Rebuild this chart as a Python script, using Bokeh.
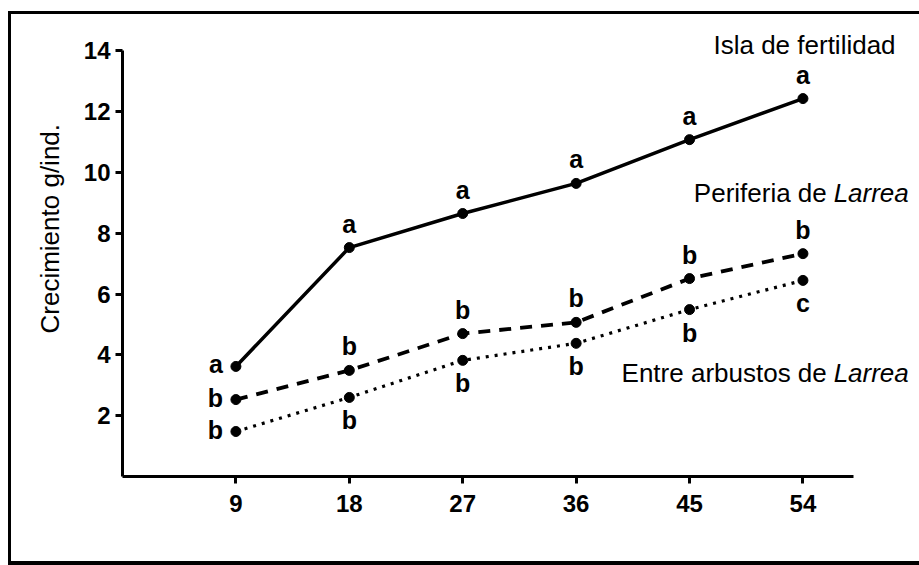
from bokeh.plotting import figure
from bokeh.models import FixedTicker, ColumnDataSource, Range1d, Title
from bokeh.core.properties import value
from bokeh.embed import file_html
from bokeh.resources import INLINE

# ---- data ----
days = [9, 18, 27, 36, 45, 54]
isla = [3.62, 7.53, 8.65, 9.64, 11.08, 12.43]
periferia = [2.53, 3.49, 4.70, 5.07, 6.51, 7.33]
entre = [1.48, 2.60, 3.82, 4.38, 5.49, 6.45]
letters_isla = ["a", "a", "a", "a", "a", "a"]
letters_periferia = ["b", "b", "b", "b", "b", "b"]
letters_entre = ["b", "b", "b", "b", "b", "c"]
y_ticks = [2, 4, 6, 8, 10, 12, 14]
y_label = "Crecimiento g/ind."
name_isla = "Isla de fertilidad"
name_periferia = ("Periferia de", "Larrea")
name_entre = ("Entre arbustos de", "Larrea")

FONT = "Liberation Sans"

p = figure(width=919, height=565,
           x_range=Range1d(0, 63.25), y_range=Range1d(0, 15.13),
           output_backend="svg", toolbar_location=None,
           min_border_left=122, min_border_right=0,
           min_border_top=16, min_border_bottom=89)
p.styles = {"box-shadow": ("inset 8px 0 0 0 #fff, inset 0 11px 0 0 #fff, "
                           "inset 11px 0 0 0 #000, inset 0 14px 0 0 #000, "
                           "inset 0 -4px 0 0 #000")}
p.border_fill_color = None
p.background_fill_color = None
p.outline_line_color = None
p.grid.visible = False

for ax in (p.xaxis[0], p.yaxis[0]):
    ax.axis_line_width = 3
    ax.axis_line_color = "black"
    ax.major_tick_line_width = 3
    ax.major_tick_line_color = "black"
    ax.major_tick_out = 7
    ax.major_tick_in = 0
    ax.minor_tick_line_color = None
    ax.major_label_text_font = FONT
    ax.major_label_text_font_style = "bold"
    ax.major_label_text_font_size = "24px"
    ax.major_label_text_color = "black"

p.xaxis.ticker = FixedTicker(ticks=days)
p.yaxis.ticker = FixedTicker(ticks=y_ticks)
p.xaxis.bounds = (0, 58)
p.yaxis.bounds = (0, 14)
p.xaxis.major_label_standoff = 11
p.yaxis.major_label_standoff = 5

p.add_layout(Title(text=y_label, align="left", offset=143, standoff=31,
                   text_font=FONT, text_font_size="26px",
                   text_font_style="normal", text_color="black"), "left")

# lines
p.line(days, isla, line_color="black", line_width=3.5)
p.line(days, periferia, line_color="black", line_width=3.8, line_dash="12 9")
p.line(days, entre, line_color="black", line_width=3.2, line_dash="3 6")
for ys in (isla, periferia, entre):
    p.scatter(days, ys, size=10, color="black")

# significance letters
def letter_offsets(pos_rest):
    xo, yo, al = [], [], []
    for i in range(len(days)):
        if i == 0:
            xo.append(-13); yo.append(-2); al.append("right")
        elif pos_rest == "above":
            xo.append(0); yo.append(-24); al.append("center")
        else:
            xo.append(0); yo.append(23); al.append("center")
    return xo, yo, al

for ys, lets, pos in ((isla, letters_isla, "above"),
                      (periferia, letters_periferia, "above"),
                      (entre, letters_entre, "below")):
    xo, yo, al = letter_offsets(pos)
    src = ColumnDataSource(dict(x=days, y=ys, t=lets, xo=xo, yo=yo, al=al))
    p.text(x="x", y="y", text="t", x_offset="xo", y_offset="yo", text_align="al",
           source=src, text_baseline="alphabetic", text_font=value(FONT),
           text_font_style="bold", text_font_size="25px", text_color="black")

# series names
lab_x = 62.4
p.text(x=[61.35], y=[13.88], text=[name_isla], text_align="right", y_offset=-10,
       text_baseline="alphabetic", text_font=value(FONT), text_font_size="26px",
       text_color="black")
for (plain, ital), ly in ((name_periferia, 8.98), (name_entre, 3.06)):
    p.text(x=[lab_x], y=[ly], text=[ital], text_align="right", y_offset=-10,
           text_baseline="alphabetic", text_font=value(FONT), text_font_size="26px",
           text_font_style="italic", text_color="black")
    p.text(x=[lab_x], y=[ly], text=[plain], text_align="right", x_offset=-82,
           y_offset=-10, text_baseline="alphabetic", text_font=value(FONT),
           text_font_size="26px", text_color="black")

open("out.html", "w").write(file_html(p, INLINE))
